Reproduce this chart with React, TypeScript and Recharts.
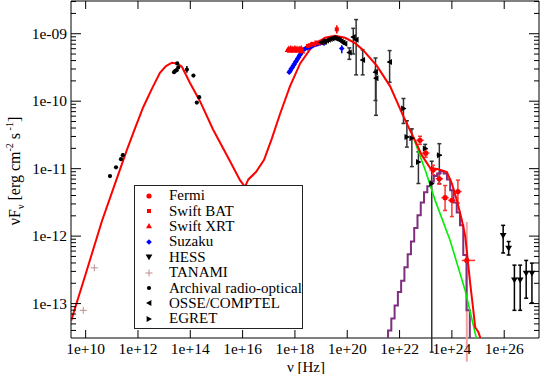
import React from 'react'
import { ComposedChart, Scatter, XAxis, YAxis, ErrorBar, ReferenceArea, Legend } from 'recharts'

const FONT = "Liberation Serif, Tinos, DejaVu Serif, Times New Roman, Times, serif"
const X_MIN = 10 ** 9.44, X_MAX = 10 ** 27.33
const Y_MIN = 10 ** -13.51, Y_MAX = 10 ** -8.515
const PLOT_W = 468, PLOT_H = 337
const FLOOR = -14 // log value below the frame, used to close lines at the bottom

// all values are [log10 nu, log10 nuFnu]
const modelCurve = [
  [9.44,-13.26],[10.01,-12.55],[10.62,-11.78],[11.08,-11.27],[11.57,-10.73],[11.89,-10.40],[12.20,-10.09],
  [12.54,-9.81],[12.84,-9.58],[13.07,-9.48],[13.30,-9.43],[13.49,-9.44],[13.68,-9.49],[13.99,-9.73],
  [14.37,-10.00],[14.87,-10.42],[15.52,-10.89],[15.90,-11.17],[16.09,-11.27],[16.22,-11.16],[16.51,-11.05],
  [16.82,-10.87],[17.12,-10.55],[17.43,-10.19],[17.81,-9.78],[18.20,-9.44],[18.69,-9.17],[19.15,-9.06],
  [19.53,-9.03],[19.92,-9.06],[20.30,-9.14],[20.60,-9.24],[21.14,-9.48],[21.64,-9.78],[22.13,-10.21],
  [22.36,-10.40],[22.59,-10.58],[22.85,-10.80],[23.17,-10.99],[23.48,-11.01],[23.81,-11.05],[24.00,-11.22],
  [24.19,-11.47],[24.38,-11.76],[24.51,-12.00],[24.70,-12.70],[24.82,-13.10],[24.89,-13.35],[25.01,-13.42],
  [25.08,-13.50],[25.12,-13.62]
]
const greenCurve = [[22.52,-10.53],[22.98,-11.02],[23.36,-11.47],[23.93,-12.06],[24.51,-12.81],[25.00,-13.62]]

// pion-decay histogram: bin edges and heights (log)
const histEdges = [21.56,21.685,21.81,21.935,22.06,22.185,22.31,22.435,22.56,22.685,22.81,22.935,23.06,
  23.185,23.31,23.435,23.56,23.685,23.81,23.935,24.06,24.185,24.31,24.435,24.56,24.685]
const histHeights = [-13.40,-13.22,-13.03,-12.83,-12.66,-12.46,-12.27,-12.08,-11.88,-11.69,-11.50,-11.35,
  -11.26,-11.19,-11.11,-11.07,-11.04,-11.07,-11.16,-11.32,-11.50,-11.65,-11.84,-12.28,-13.10]

// [lx, ly, dyLo, dyHi]
const archival = [[10.93,-11.11,0,0],[11.16,-10.98,0,0],[11.35,-10.86,0,0],[11.42,-10.80,0.03,0.03],[13.38,-9.57,0,0],
  [13.43,-9.55,0,0],[13.48,-9.54,0,0],[13.50,-9.44,0,0],[13.54,-9.50,0,0],[13.87,-9.53,0.05,0.05],[14.12,-9.62,0,0],
  [14.25,-10.02,0,0],[14.34,-9.94,0,0]]
const tanami = [[10.33,-12.47],[9.91,-13.10]]
const swiftXrt = [[17.72,-9.24],[17.76,-9.22],[17.80,-9.25],[17.84,-9.21],[17.88,-9.24],[17.92,-9.22],
  [17.96,-9.25],[18.00,-9.21],[18.04,-9.23],[18.08,-9.22],[18.12,-9.25],[18.16,-9.22],[18.20,-9.24],
  [18.24,-9.21],[18.28,-9.26]]
const swiftBat = [[18.50,-9.18,0,0],[18.58,-9.17,0,0],[18.66,-9.15,0,0],[18.74,-9.16,0,0],[18.82,-9.13,0,0],
  [18.90,-9.14,0,0],[18.98,-9.12,0,0],[19.06,-9.13,0,0],[19.60,-8.935,0.06,0.06]]
const suzaku = [[17.78,-9.57,0,0],[17.82,-9.55,0,0],[17.86,-9.52,0,0],[17.90,-9.50,0,0],[17.94,-9.47,0,0],
  [17.98,-9.45,0,0],[18.02,-9.42,0,0],[18.06,-9.40,0,0],[18.10,-9.37,0,0],[18.14,-9.35,0,0],[18.18,-9.32,0,0],
  [18.22,-9.30,0,0],[18.26,-9.27,0,0],[18.32,-9.24,0,0],[18.40,-9.22,0,0],[18.48,-9.21,0,0],[18.56,-9.20,0,0],
  [18.64,-9.19,0,0],[18.72,-9.17,0,0],[18.80,-9.16,0,0],[18.88,-9.15,0,0],[18.96,-9.14,0,0],[19.04,-9.13,0,0],
  [19.12,-9.14,0,0],[19.79,-9.22,0.07,0.05]]
// [lx, ly, dxLo, dxHi, dyLo, dyHi]
const fermi = [[22.78,-10.58,0.14,0.14,0.06,0.06],[23.00,-10.77,0.14,0.14,0.06,0.06],[23.28,-11.02,0.14,0.14,0.07,0.07],
  [23.52,-11.15,0.14,0.14,0.08,0.08],[23.74,-11.43,0.14,0.14,0.19,0.18],[24.00,-11.47,0.14,0.14,0.24,0.15],
  [24.23,-11.34,0.14,0.14,0.17,0.17]]
const fermiLast = [[24.57,-12.36,0.19,0.32,1.5,0.57]]
const hess = [[25.96,-11.99,0.26,0.15],[26.17,-12.18,0.10,0.10],[26.39,-12.65,0.45,0.22],[26.61,-12.65,0.45,0.22],
  [26.84,-12.55,0.37,0.19],[27.06,-12.55,0.44,0.15]]
const osse = [[19.00,-9.13,0,0,0,0],[19.07,-9.11,0,0,0,0],[19.14,-9.12,0,0,0,0],[19.21,-9.10,0,0,0,0],
  [19.28,-9.09,0,0,0,0],[19.35,-9.08,0,0,0,0],[19.42,-9.07,0,0,0,0],[19.49,-9.06,0,0,0,0],[19.56,-9.07,0,0,0,0],
  [19.63,-9.08,0,0,0,0],[19.70,-9.09,0,0,0,0],[19.77,-9.11,0,0,0,0],[19.84,-9.13,0,0,0,0],[19.91,-9.15,0,0,0,0],
  [20.08,-9.28,0.08,0.08,0.10,0.07],[20.23,-9.05,0.08,0.08,0.25,0.13],[20.34,-9.09,0.08,0.08,0.52,0.30],
  [20.59,-9.39,0.08,0.08,0.22,0.15],[21.08,-9.57,0.08,0.08,0.42,0.21],[21.10,-9.66,0.08,0.08,0.55,0.12],
  [21.62,-9.42,0.08,0.08,0.30,0.17]]
const egret = [[22.15,-10.11,0.08,0.08,0.22,0.15],[22.28,-10.53,0.08,0.08,0.15,0.24],[22.47,-10.55,0.08,0.08,0.42,0.14],
  [22.72,-10.90,0.08,0.08,0.32,0.15],[22.98,-10.70,0.08,0.08,0.06,0.06],[23.52,-10.80,0.1,0.1,0.42,0.17],
  [23.23,-11.22,0.08,0.08,2.5,0.33]]

const xTicks = [1e10, 1e12, 1e14, 1e16, 1e18, 1e20, 1e22, 1e24, 1e26]
const yDecades = [-14, -13, -12, -11, -10, -9]
const yMult = [1, 2, 3, 4, 5, 6, 7, 8, 9]
const yTicks = yDecades.flatMap(d => yMult.map(m => m * 10 ** d)).filter(v => v >= Y_MIN && v <= Y_MAX)

const legendItems = [
  { name: 'Fermi', kind: 'circle', color: '#ff0000' },
  { name: 'Swift BAT', kind: 'square', color: '#ff0000' },
  { name: 'Swift XRT', kind: 'triUp', color: '#ff0000' },
  { name: 'Suzaku', kind: 'diamond', color: '#0000ff' },
  { name: 'HESS', kind: 'triDown', color: '#000000' },
  { name: 'TANAMI', kind: 'plus', color: '#bc8f8f' },
  { name: 'Archival radio-optical', kind: 'dot', color: '#000000' },
  { name: 'OSSE/COMPTEL', kind: 'triLeft', color: '#000000' },
  { name: 'EGRET', kind: 'triRight', color: '#000000' },
]

const pt = (p: number[]) => ({ x: 10 ** p[0], y: 10 ** p[1] })
const ptY = (p: number[]) => {
  const x = 10 ** p[0], y = 10 ** p[1]
  return { x, y, ey: [y - 10 ** (p[1] - p[2]), 10 ** (p[1] + p[3]) - y] }
}
const ptXY = (p: number[]) => {
  const x = 10 ** p[0], y = 10 ** p[1]
  return { x, y, ex: [x - 10 ** (p[0] - p[2]), 10 ** (p[0] + p[3]) - x], ey: [y - 10 ** (p[1] - p[4]), 10 ** (p[1] + p[5]) - y] }
}

const histLine = [pt([histEdges[0], FLOOR])]
histHeights.forEach((h, i) => { histLine.push(pt([histEdges[i], h])); histLine.push(pt([histEdges[i + 1], h])) })
histLine.push(pt([histEdges[histEdges.length - 1], FLOOR]))

function Marker({ kind, cx, cy, color }: any) {
  switch (kind) {
    case 'circle': return <circle cx={cx} cy={cy} r={2.6} fill={color} />
    case 'dot': return <circle cx={cx} cy={cy} r={2.1} fill={color} />
    case 'square': return <rect x={cx - 2} y={cy - 2} width={4} height={4} fill={color} />
    case 'diamond': return <polygon points={`${cx},${cy - 2.8} ${cx + 2.8},${cy} ${cx},${cy + 2.8} ${cx - 2.8},${cy}`} fill={color} />
    case 'triUp': return <polygon points={`${cx},${cy - 3} ${cx + 3},${cy + 2.2} ${cx - 3},${cy + 2.2}`} fill={color} />
    case 'triDown': return <polygon points={`${cx - 3.4},${cy - 2.4} ${cx + 3.4},${cy - 2.4} ${cx},${cy + 3.2}`} fill={color} />
    case 'triLeft': return <polygon points={`${cx - 3},${cy} ${cx + 2.4},${cy - 3} ${cx + 2.4},${cy + 3}`} fill={color} />
    case 'triRight': return <polygon points={`${cx + 3},${cy} ${cx - 2.4},${cy - 3} ${cx - 2.4},${cy + 3}`} fill={color} />
    case 'plus': return <g stroke={color} strokeWidth={1}><line x1={cx - 3.5} x2={cx + 3.5} y1={cy} y2={cy} /><line x1={cx} x2={cx} y1={cy - 3.5} y2={cy + 3.5} /></g>
  }
  return null
}
const shape = (kind: string, color: string) => (p: any) => <Marker kind={kind} cx={p.cx} cy={p.cy} color={color} />
const noShape = () => <g />

function XTick({ x, y, payload }: any) {
  const e = Math.round(Math.log10(payload.value))
  return (
    <g>
      <line x1={x} x2={x} y1={y} y2={y - 8} stroke="#000" />
      <line x1={x} x2={x} y1={y - PLOT_H} y2={y - PLOT_H + 8} stroke="#000" />
      <text x={x} y={y + 16} textAnchor="middle" fontSize={15.5} fontFamily={FONT} fill="#000">{'1e+' + e}</text>
    </g>
  )
}

function YTick({ x, y, payload }: any) {
  const lg = Math.log10(payload.value)
  const major = Math.abs(lg - Math.round(lg)) < 1e-6
  const len = major ? 10 : 5
  const e = -Math.round(lg)
  return (
    <g>
      <line x1={x} x2={x + len} y1={y} y2={y} stroke="#000" />
      <line x1={x + PLOT_W} x2={x + PLOT_W - len} y1={y} y2={y} stroke="#000" />
      {major && <text x={x - 4} y={y + 5} textAnchor="end" fontSize={15.5} fontFamily={FONT} fill="#000">{'1e-' + String(e).padStart(2, '0')}</text>}
    </g>
  )
}

function YTitle() {
  return (
    <text transform="translate(20,171) rotate(-90)" textAnchor="middle" fontSize={16} fontFamily={FONT} fill="#000">
      νF<tspan dy={4} fontSize={10}>ν</tspan><tspan dy={-4}> [erg cm</tspan><tspan dy={-7} fontSize={10}>-2</tspan>
      <tspan dy={7}> s</tspan><tspan dy={-7} fontSize={10}> -1</tspan><tspan dy={7}>]</tspan>
    </text>
  )
}

function XTitle() {
  return <text x={306} y={372} textAnchor="middle" fontSize={15} fontFamily={FONT} fill="#000">ν [Hz]</text>
}

function LegendBox() {
  return (
    <div style={{ width: 167, height: 140, border: '1px solid #222', background: '#fff', fontFamily: FONT, fontSize: 15, paddingTop: 2, boxSizing: 'content-box' }}>
      {legendItems.map(it => (
        <div key={it.name} style={{ display: 'flex', alignItems: 'center', height: 15.4, lineHeight: '15px' }}>
          <svg width={34} height={12} style={{ flexShrink: 0 }}>
            <Marker kind={it.kind} cx={14} cy={6} color={it.color} />
          </svg>
          <span style={{ color: '#000', whiteSpace: 'nowrap' }}>{it.name}</span>
        </div>
      ))}
    </div>
  )
}

export default function App() {
  const errBlack = '#333'
  return (
    <div style={{ position: 'absolute', left: 0, top: 0, background: '#fff' }}>
      <ComposedChart width={545} height={374} margin={{ top: 1, right: 6, bottom: 0, left: 0 }}>
        <XAxis dataKey="x" type="number" scale="log" domain={[X_MIN, X_MAX]} allowDataOverflow ticks={xTicks}
          interval={0} tick={<XTick />} tickLine={false} axisLine={false} tickSize={0} tickMargin={0} height={36}
          label={<XTitle />} />
        <YAxis dataKey="y" type="number" scale="log" domain={[Y_MIN, Y_MAX]} allowDataOverflow ticks={yTicks}
          interval={0} tick={<YTick />} tickLine={false} axisLine={false} tickSize={0} tickMargin={0} width={71}
          label={<YTitle />} />

        <Scatter data={histLine} shape={noShape} line={{ stroke: '#7e2f7e', strokeWidth: 2 }} lineType="joint" isAnimationActive={false} />
        <Scatter data={greenCurve.map(pt)} shape={noShape} line={{ stroke: '#00ee00', strokeWidth: 1.6 }} lineType="joint" isAnimationActive={false} />
        <Scatter data={modelCurve.map(pt)} shape={noShape} line={{ stroke: '#ff0000', strokeWidth: 2 }} lineType="joint" isAnimationActive={false} />

        <Scatter data={tanami.map(pt)} shape={shape('plus', '#bc8f8f')} isAnimationActive={false} />
        <Scatter data={archival.map(ptY)} shape={shape('dot', '#000')} isAnimationActive={false}>
          <ErrorBar dataKey="ey" direction="y" stroke="#000" width={0} />
        </Scatter>
        <Scatter data={suzaku.map(ptY)} shape={shape('diamond', '#0000ff')} isAnimationActive={false}>
          <ErrorBar dataKey="ey" direction="y" stroke="#0000ff" width={0} />
        </Scatter>
        <Scatter data={swiftXrt.map(pt)} shape={shape('triUp', '#ff0000')} isAnimationActive={false} />
        <Scatter data={swiftBat.map(ptY)} shape={shape('square', '#ff0000')} isAnimationActive={false}>
          <ErrorBar dataKey="ey" direction="y" stroke="#ff0000" width={0} />
        </Scatter>
        <Scatter data={osse.map(ptXY)} shape={shape('triLeft', '#000')} isAnimationActive={false}>
          <ErrorBar dataKey="ey" direction="y" stroke={errBlack} width={2} />
          <ErrorBar dataKey="ex" direction="x" stroke={errBlack} width={0} />
        </Scatter>
        <Scatter data={egret.map(ptXY)} shape={shape('triRight', '#000')} isAnimationActive={false}>
          <ErrorBar dataKey="ey" direction="y" stroke={errBlack} width={2} />
          <ErrorBar dataKey="ex" direction="x" stroke={errBlack} width={0} />
        </Scatter>
        <Scatter data={fermi.map(ptXY)} shape={shape('circle', '#ff0000')} isAnimationActive={false}>
          <ErrorBar dataKey="ey" direction="y" stroke="#ff3030" width={2} />
          <ErrorBar dataKey="ex" direction="x" stroke="#ff3030" width={0} />
        </Scatter>
        <Scatter data={fermiLast.map(ptXY)} shape={shape('circle', '#ff0000')} isAnimationActive={false}>
          <ErrorBar dataKey="ey" direction="y" stroke="#f4a0a0" strokeWidth={2} width={0} />
          <ErrorBar dataKey="ex" direction="x" stroke="#ff3030" width={0} />
        </Scatter>
        <Scatter data={hess.map(ptY)} shape={shape('triDown', '#000')} isAnimationActive={false}>
          <ErrorBar dataKey="ey" direction="y" stroke="#000" width={2} />
        </Scatter>

        <ReferenceArea x1={X_MIN} x2={X_MAX} y1={Y_MIN} y2={Y_MAX} fill="none" stroke="#000" strokeWidth={1} ifOverflow="visible" />
        <Legend layout="vertical" align="center" verticalAlign="middle" content={<LegendBox />}
          wrapperStyle={{ left: 134, top: 185, width: 'auto', height: 'auto' }} />
      </ComposedChart>
    </div>
  )
}
